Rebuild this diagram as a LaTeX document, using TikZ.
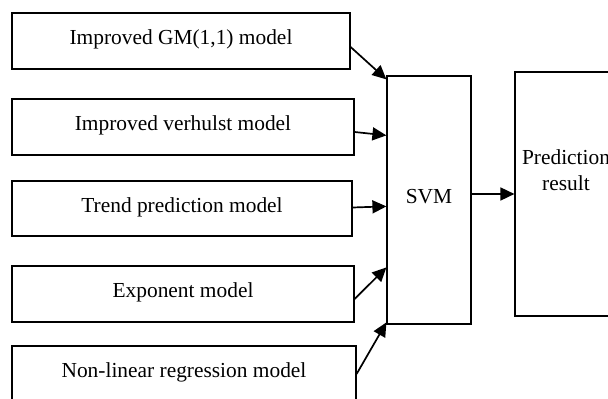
\documentclass[tikz,border=0pt]{standalone}
\usepackage{fontspec}
\setmainfont{Liberation Serif}
\usetikzlibrary{calc,arrows.meta}
\tikzset {>={Triangle[length=7pt,width=6.5pt]}}
\tikzset{model/.style={draw,line width=.6pt,minimum height=28pt,inner sep=0pt,
    text height=8pt,text depth=4pt}}
\newcommand*{\fs}{\fontsize{10.7}{12.8}\selectfont}

\begin{document}
\begin{tikzpicture}[x=.5pt,y=-.5pt,font=\fs]
\useasboundingbox (0,0) rectangle (608,399);
\clip (0,0) rectangle (608,399);
\node[model,minimum width=169pt] (m1) at (181,41) {Improved GM(1,1) model};
\node[model,minimum width=171pt] (m2) at (183,127) {Improved verhulst model};
\node[model,minimum width=170pt,minimum height=27.5pt] (m3) at (182,208.5) {Trend prediction model};
\node[model,minimum width=171pt] (m4) at (183,294) {Exponent model};
\node[model,minimum width=172pt] (m5) at (184,374) {Non-linear regression model};
\node[draw,line width=.6pt,minimum width=42pt,minimum height=124pt,inner sep=0pt,
  text height=8pt,text depth=4pt] (svm) at (429,200) {SVM};
\node[draw,line width=.6pt,minimum width=51pt,minimum height=122pt] (pred) at (566,194) {};
\node[align=center,inner sep=0pt] (predtxt) at ($(pred.center)+(0,-24)$) {Prediction\\result};
% inputs into the SVM
\foreach \m/\a/\b in {m1/6/4, m2/5/60, m3/-1/131, m4/5/192, m5/0/247}
  \draw[->,line width=.85pt] ($(\m.east)+(0,\a)$) -- ($(svm.north west)+(0,\b)$);
\coordinate (s) at ($(svm.east)+(0,-6)$);
\draw[->,line width=.85pt] (s) -- (s -| pred.west);
\end{tikzpicture}
\end{document}
